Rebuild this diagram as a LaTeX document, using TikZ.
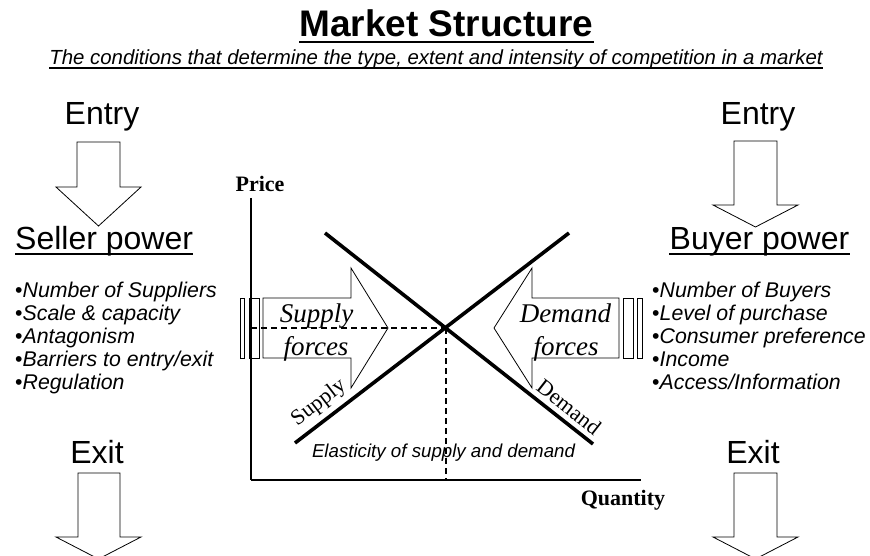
\documentclass[tikz,border=0pt]{standalone}
\usepackage{fontspec}
\setmainfont{Liberation Sans}
\newfontfamily\tnr{Liberation Serif}
\begin{document}
\begin{tikzpicture}[x=1pt,y=-1pt,
  txt/.style={inner sep=0pt, anchor=base},
  big/.style={txt, font=\fontsize{32}{36}\selectfont},
  item/.style={txt, anchor=base west, font=\fontsize{21.3}{23}\selectfont},
  serifbold/.style={txt, font=\tnr\bfseries\fontsize{22}{24}\selectfont},
  forcetxt/.style={txt, font=\tnr\itshape\fontsize{27}{30}\selectfont},
  curvelbl/.style={inner sep=0pt, font=\tnr\fontsize{22}{24}\selectfont},
  blockarrow/.style={draw, line width=0.8pt},
  bar/.style={draw, line width=0.8pt},
  curve/.style={line width=3.6pt},
  axis/.style={line width=2pt},
  dashline/.style={line width=1.8pt, dash pattern=on 6pt off 4pt},
  uline/.style={line width=2.8pt}]
\clip (0,0) rectangle (870,556);
\fill[white] (0,0) rectangle (870,556);

% title
\node[txt, font=\bfseries\fontsize{37}{40}\selectfont] (title) at (446.5,37) {Market Structure};
\draw[uline] ([yshift=-5pt]title.base west) -- ([yshift=-5pt]title.base east);
\node[txt, font=\itshape\fontsize{20.4}{22}\selectfont] (sub) at (436,65) {The conditions that determine the type, extent and intensity of competition in a market};
\draw[line width=1.2pt] ([yshift=-3pt]sub.base west) -- ([yshift=-3pt]sub.base east);

% left side
\node[big] (entryL) at (102,125) {Entry};
\draw[blockarrow] (77,142) -- (120,142) -- (120,187) -- (141,187) -- (98.5,226) -- (56,187) -- (77,187) -- cycle;
\node[big, anchor=base west] (seller) at (15,250) {Seller power};
\draw[uline] ([yshift=-4pt]seller.base west) -- ([yshift=-4pt]seller.base east);
\foreach \t [count=\i] in {Number of Suppliers, Scale \& capacity, Antagonism, Barriers to entry/exit, Regulation}
  \node[item] (sl\i) at (15,{297+23.2*(\i-1)}) {•\textit{\t}};
\node[big] (exitL) at (97,463) {Exit};
\draw[blockarrow] (78,473) -- (120,473) -- (120,537) -- (141,537) -- (98.5,559) -- (56,537) -- (78,537) -- cycle;

% right side
\node[big] (entryR) at (758,125) {Entry};
\draw[blockarrow] (734,141) -- (777,141) -- (777,205) -- (798,205) -- (755.5,227) -- (713,205) -- (734,205) -- cycle;
\node[big] (buyer) at (759.5,250) {Buyer power};
\draw[uline] ([yshift=-4pt]buyer.base west) -- ([yshift=-4pt]buyer.base east);
\foreach \t [count=\i] in {Number of Buyers, Level of purchase, Consumer preference, Income, Access/Information}
  \node[item] (bl\i) at (652,{297+23.2*(\i-1)}) {•\textit{\t}};
\node[big] (exitR) at (753,463) {Exit};
\draw[blockarrow] (734,473) -- (777,473) -- (777,537) -- (798,537) -- (755.5,559) -- (713,537) -- (734,537) -- cycle;

% axes
\coordinate (O) at (251,480);
\coordinate (ytop) at (251,198);
\coordinate (xend) at (641,480);
\draw[axis] (ytop) -- (O);
\draw[line width=1.5pt] (O) -- (xend);
\node[serifbold] (price) at (260,192) {Price};
\node[serifbold] (qty) at (623,505) {Quantity};

% curves
\coordinate (s1) at (295,443);
\coordinate (s2) at (569,233);
\coordinate (d1) at (325,233);
\coordinate (d2) at (593,444);
\coordinate (eq) at (446,328);
\draw[curve] (s1) -- (s2);
\draw[curve] (d1) -- (d2);
\draw[dashline] (251,328) -- (eq);
\draw[dashline] (eq) -- (446,480);
\node[curvelbl, rotate=37.5] (slbl) at (319,403) {Supply};
\node[curvelbl, rotate=-38] (dlbl) at (569,407) {Demand};
\node[txt, font=\itshape\fontsize{18.7}{20}\selectfont] (elas) at (443.5,457) {Elasticity of supply and demand};

% supply forces arrow
\draw[bar] (240,298) rectangle (244.5,358);
\draw[bar] (249,298) rectangle (259,358);
\draw[blockarrow] (263,298) -- (351,298) -- (351,268) -- (388,328) -- (351,388) -- (351,358) -- (263,358) -- cycle;
\node[forcetxt] (sf1) at (316.5,322) {Supply};
\node[forcetxt] (sf2) at (316,355) {forces};

% demand forces arrow
\draw[bar] (623,298) rectangle (633,358);
\draw[bar] (637,298) rectangle (642,358);
\draw[blockarrow] (619,298) -- (532,298) -- (532,268) -- (494,328) -- (532,388) -- (532,358) -- (619,358) -- cycle;
\node[forcetxt] (df1) at (565.5,322) {Demand};
\node[forcetxt] (df2) at (566,355) {forces};
\end{tikzpicture}
\end{document}
